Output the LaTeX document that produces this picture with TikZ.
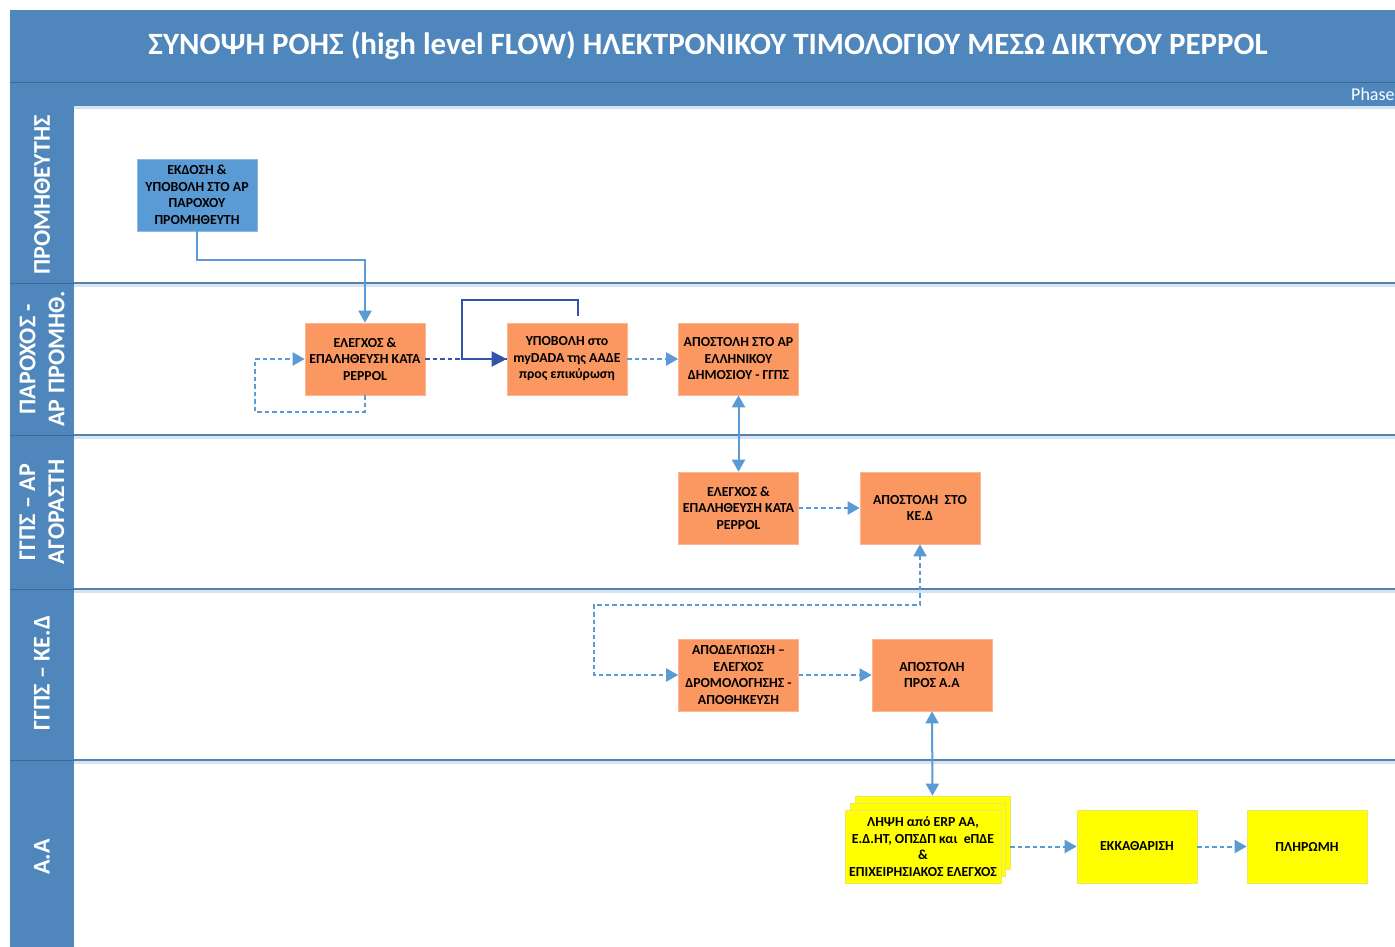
\documentclass[tikz,border=0pt]{standalone}
\usepackage{fontspec}
\setmainfont{Carlito}
\usetikzlibrary{arrows.meta}
\definecolor{headblue}{RGB}{79,135,188}
\definecolor{lineblue}{RGB}{84,128,178}
\definecolor{shadeblue}{RGB}{214,228,242}
\definecolor{boxblue}{RGB}{91,155,213}
\definecolor{boxorange}{RGB}{251,152,98}
\definecolor{boxyellow}{RGB}{255,255,0}
\definecolor{arrowblue}{RGB}{91,155,213}
\definecolor{darkarrow}{RGB}{52,84,170}

\begin{document}
\begin{tikzpicture}
[every node/.style={inner sep=0pt},
 >={Triangle[length=12pt,width=13pt]},
 lanehead/.style={rotate=90, text=white, align=center, font=\fontsize{24}{29}\selectfont\bfseries},
 procbox/.style={rectangle, minimum width=120pt, minimum height=72pt, fill=boxorange, draw=boxorange!70!white, line width=0.6pt, align=center, font=\fontsize{13.8}{16.5}\selectfont\bfseries},
 supbox/.style={procbox, fill=boxblue, draw=boxblue!70!white},
 aabox/.style={procbox, fill=boxyellow, draw=boxyellow!85!black!60!white, minimum height=73pt},
 flow/.style={line width=2pt, color=arrowblue},
 dflow/.style={flow, dash pattern=on 4.5pt off 3pt},
 laneline/.style={line width=1.5pt, color=lineblue}]
\useasboundingbox (0pt,0pt) rectangle (1395pt,-947pt);
% header bands and lane column
\fill[headblue] (10pt,-10pt) rectangle (1395pt,-106pt);
\draw[line width=1pt, lineblue!80!black] (10pt,-83pt) -- (1395pt,-83pt);
\draw[line width=3pt, shadeblue] (74pt,-108pt) -- (1395pt,-108pt);
\fill[headblue] (10pt,-106pt) rectangle (74pt,-947pt);
\node (title) [text=white, font=\fontsize{31}{34}\selectfont\bfseries] at (708pt, -46pt) {ΣΥΝΟΨΗ ΡΟΗΣ (high level FLOW) ΗΛΕΚΤΡΟΝΙΚΟΥ ΤΙΜΟΛΟΓΙΟΥ ΜΕΣΩ ΔΙΚΤΥΟΥ PEPPOL};
\node (phase) [anchor=west, text=white, font=\fontsize{18}{20}\selectfont] at (1351pt, -94pt) {Phase};
% lane boundaries
\foreach \y in {283,435,589,760} {
  \draw[line width=3pt, shadeblue] (74pt,-\y pt-2.5pt) -- (1395pt,-\y pt-2.5pt);
  \draw[laneline] (74pt,-\y pt) -- (1395pt,-\y pt);
  \draw[line width=0.8pt, lineblue!80!black] (10pt,-\y pt) -- (74pt,-\y pt);
}
% lane titles
\node (lsup) [lanehead] at (42pt, -195pt) {ΠΡΟΜΗΘΕΥΤΗΣ};
\node (lprov) [lanehead] at (42pt, -359pt) {ΠΑΡΟΧΟΣ -\\ΑΡ ΠΡΟΜΗΘ.};
\node (lbuy) [lanehead] at (42pt, -512pt) {ΓΓΠΣ – ΑΡ\\ΑΓΟΡΑΣΤΗ};
\node (lked) [lanehead] at (42pt, -673pt) {ΓΓΠΣ – ΚΕ.Δ};
\node (laa) [lanehead] at (42pt, -857pt) {Α.Α};
% boxes
\node (sup) [supbox] at (197pt, -195pt) {ΕΚΔΟΣΗ \&\\ΥΠΟΒΟΛΗ ΣΤΟ ΑΡ\\ΠΑΡΟΧΟΥ\\ΠΡΟΜΗΘΕΥΤΗ};
\node (chk1) [procbox] at (365pt, -359pt) {ΕΛΕΓΧΟΣ \&\\ΕΠΑΛΗΘΕΥΣΗ ΚΑΤΑ\\PEPPOL};
\node (mydata) [procbox] at (567pt, -359pt) {ΥΠΟΒΟΛΗ στο\\myDADA της ΑΑΔΕ\\προς επικύρωση};
\node (sendap) [procbox] at (738.5pt, -359pt) {ΑΠΟΣΤΟΛΗ ΣΤΟ ΑΡ\\ΕΛΛΗΝΙΚΟΥ\\ΔΗΜΟΣΙΟΥ - ΓΓΠΣ};
\node (chk2) [procbox] at (738.5pt, -508pt) {ΕΛΕΓΧΟΣ \&\\ΕΠΑΛΗΘΕΥΣΗ ΚΑΤΑ\\PEPPOL};
\node (sendked) [procbox] at (920pt, -508pt) {ΑΠΟΣΤΟΛΗ~ ΣΤΟ\\ΚΕ.Δ};
\node (apod) [procbox] at (738.5pt, -675pt) {ΑΠΟΔΕΛΤΙΩΣΗ –\\ΕΛΕΓΧΟΣ\\ΔΡΟΜΟΛΟΓΗΣΗΣ -\\ΑΠΟΘΗΚΕΥΣΗ};
\node (sendaa) [procbox] at (932pt, -675pt) {ΑΠΟΣΤΟΛΗ\\ΠΡΟΣ Α.Α};
\node (recvback) [aabox, minimum width=155pt] at (932.5pt, -832.5pt) {};
\node (recvmid) [aabox, minimum width=155pt] at (927.5pt, -839.5pt) {};
\node (recv) [aabox, minimum width=156pt] at (923pt, -846.5pt) {ΛΗΨΗ από ERP ΑΑ,\\Ε.Δ.ΗΤ, ΟΠΣΔΠ και~ eΠΔΕ\\\&\\ΕΠΙΧΕΙΡΗΣΙΑΚΟΣ ΕΛΕΓΧΟΣ};
\node (clear) [aabox] at (1137pt, -846.5pt) {ΕΚΚΑΘΑΡΙΣΗ};
\node (pay) [aabox] at (1307pt, -846.5pt) {ΠΛΗΡΩΜΗ};
% connectors
\coordinate (myret) at (578pt, -316pt);
\draw [flow, ->] (sup.south) |- (365pt, -260pt) -- (chk1.north);
\draw [dflow, ->] (chk1.south) -- (365pt, -412pt) -| (255pt, -359pt) -- (chk1.west);
\draw [line width=1.5pt, color=darkarrow] (myret) |- (462pt, -300pt) -- (462pt, -359pt) -- (507pt, -359pt);
\draw [dflow, color=darkarrow, -{Triangle[length=15pt,width=15pt]}] (chk1.east) -- (mydata.west);
\draw [dflow, ->] (mydata.east) -- (sendap.west);
\draw [flow, <->] (sendap.south) -- (chk2.north);
\draw [dflow, ->] (chk2.east) -- (sendked.west);
\draw [dflow, <->] (sendked.south) -- (920pt, -605pt) -| (594pt, -675pt) -- (apod.west);
\draw [dflow, ->] (apod.east) -- (sendaa.west);
\draw [flow, <->] (sendaa.south) -- (recvback.north);
\draw [dflow, ->] (recvback.east |- clear.west) -- (clear.west);
\draw [dflow, ->] (clear.east) -- (pay.west);
\end{tikzpicture}
\end{document}
